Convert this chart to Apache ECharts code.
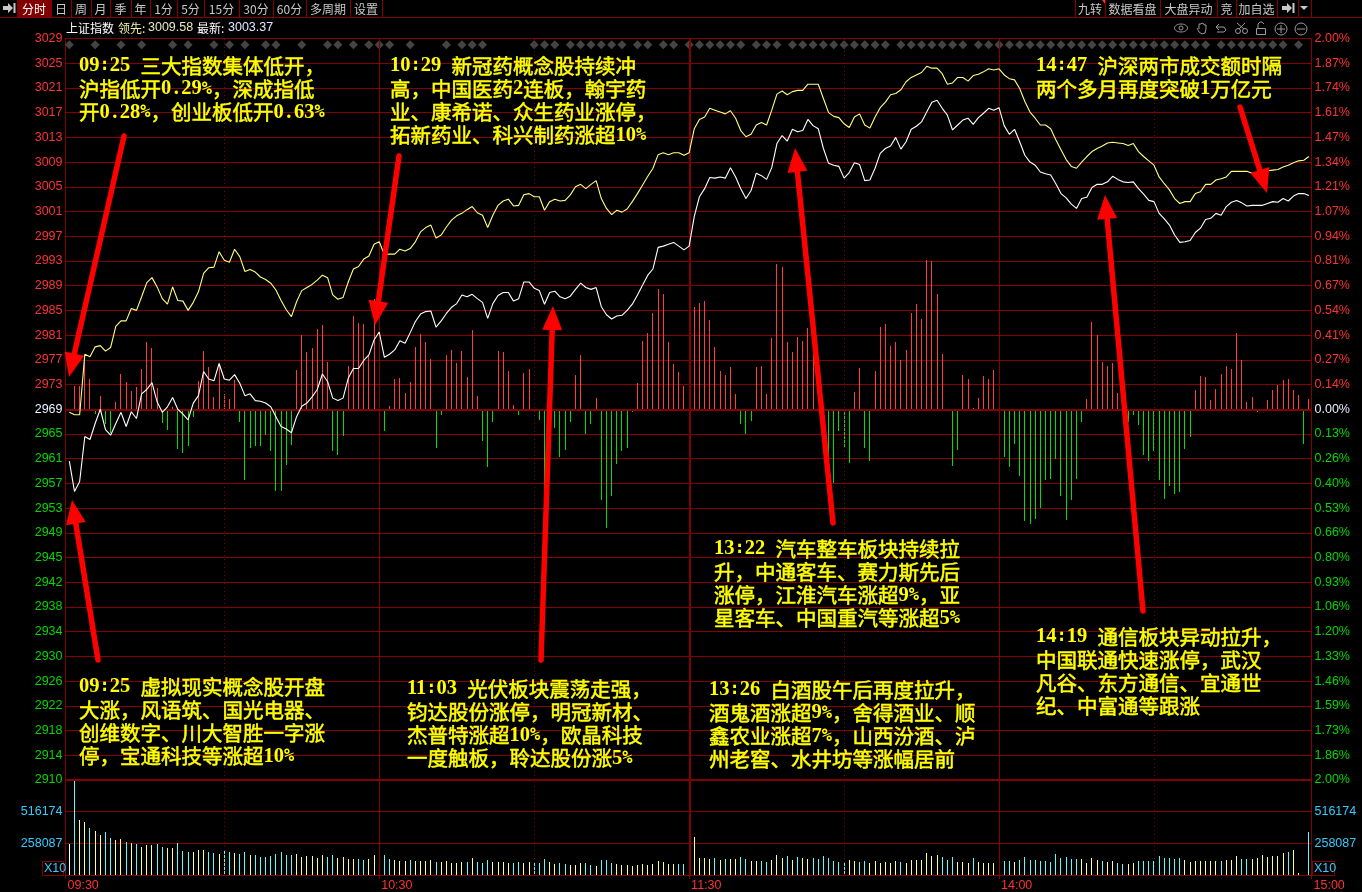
<!DOCTYPE html>
<html>
<head>
<meta charset="utf-8">
<title>上证指数 分时</title>
<style>
  html, body { margin: 0; padding: 0; background: #000; }
  #main { width: 1362px; height: 892px; }
</style>
<script src="https://cdn.jsdelivr.net/npm/echarts@6/dist/echarts.min.js"></script>
</head>
<body>
<div id="main"></div>
<script>
// 价格刻度（上→下）
const priceTicks = ['3029','3025','3021','3017','3013','3009','3005','3001','2997','2993','2989','2985','2981','2977','2973','2969','2965','2961','2957','2953','2949','2945','2942','2938','2934','2930','2926','2922','2918','2914','2910']
const pctTicks = ['2.00%','1.87%','1.74%','1.61%','1.47%','1.34%','1.21%','1.07%','0.94%','0.81%','0.67%','0.54%','0.41%','0.27%','0.14%','0.00%','0.13%','0.26%','0.40%','0.53%','0.66%','0.80%','0.93%','1.06%','1.20%','1.33%','1.46%','1.59%','1.73%','1.86%','2.00%']
const volTicks = ['', '258087', '516174', '']
const timeLabels = ['09:30', '10:30', '11:30', '14:00', '15:00']

// 相对昨收的点数，每分钟一个点
const indexLine = [
  -8.4,-13.3,-11.7,-4.4,-4.9,-2.3,0,-3.3,-4.2,-2.3,
  -0.5,-2.8,-0.4,-1.5,2.5,3.2,4.3,1.2,-0.5,0.4,
  1.9,0,-0.8,-1.7,1.0,2.2,6.1,4.9,4.6,7.4,
  4.9,4.7,5.6,4.2,2.2,2.5,1.4,1.3,1.0,0.4,
  -1.2,-2.8,-3.2,-3.8,-1.2,0.5,1.0,2.0,3.2,5.7,
  4.5,1.8,1.4,1.8,5.0,6.6,6.6,7.9,8.8,11.2,
  12.5,8.4,8.9,9.6,11.1,10.7,12.4,14.2,15.4,15.8,
  15.9,13.3,14.3,15.5,16.5,17.1,18.5,18.2,18.6,17.9,
  17.3,14.7,17.1,18.4,18.9,18.9,17.5,17.9,20.6,20.6,
  19.6,19.2,17.0,18.9,19.1,18.2,17.9,18.3,19.4,20.4,
  19.7,19.4,19.7,16.6,15.3,14.6,15.1,15.2,16.0,17.0,
  18.5,20.1,21.7,22.7,26.2,26.4,26.7,27.0,26.4,25.8,
  26.4,31.2,34.4,35.7,37.5,37.4,37.6,37.4,39.1,37.6,
  35.7,34.1,35.4,38.2,37.8,37.2,39.1,43.0,44.3,43.4,
  45.3,44.9,45.1,46.9,45.9,45.4,42.2,39.8,39.5,39.3,
  37.4,38.3,39.9,39.6,37.0,37.1,39.0,41.4,42.2,42.6,
  44.0,42.1,43.3,45.3,45.8,46.5,48.1,49.7,50.0,48.7,
  47.6,45.2,46.0,46.8,47.1,46.1,47.2,47.9,48.7,48.4,
  48.8,45.9,44.5,45.3,43.3,41.1,40.0,39.5,38.4,38.1,
  37.9,36.5,34.9,34.2,33.2,32.5,34.1,34.3,35.9,36.4,
  36.4,36.8,37.7,37.2,36.8,36.7,36.8,35.7,34.8,33.8,
  33.6,31.7,30.8,29.8,28.2,27.0,27.1,27.3,28.6,29.3,
  30.7,30.9,31.7,31.4,32.8,33.5,33.8,33.4,32.9,33.0,
  33.0,33.0,33.3,33.6,33.5,34.1,33.7,34.5,34.9,34.9,
  34.6
]
const leadLine = [
  -0.5,-0.9,-0.9,8.9,8.5,10.1,10.3,9.4,10.0,13.4,
  14.3,14.3,16.3,16.0,18.2,20.5,21.3,19.8,17.9,17.0,
  19.8,17.6,17.5,16.0,17.3,19.0,22.0,22.9,23.0,25.5,
  24.1,23.8,25.9,24.7,22.3,22.6,22.2,21.4,21.0,20.4,
  19.3,17.6,16.1,15.0,17.4,19.2,19.7,20.2,20.9,21.7,
  21.3,18.5,17.8,18.1,20.6,22.7,23.1,24.3,24.8,26.7,
  27.1,25.0,25.1,25.1,25.9,25.6,26.0,27.1,28.7,29.4,
  29.8,27.7,28.2,29.5,30.6,31.3,31.7,32.3,32.8,31.8,
  31.4,29.4,31.4,33.0,33.7,34.0,32.9,33.0,34.7,34.9,
  34.4,34.4,32.2,33.6,34.0,33.7,33.8,34.7,36.0,36.4,
  35.7,36.4,37.0,34.1,32.5,31.5,32.2,31.9,32.4,33.6,
  34.9,36.3,37.7,39.0,41.2,41.5,41.2,41.5,41.5,41.1,
  41.5,45.4,46.9,47.3,48.7,48.4,48.1,47.8,48.3,47.1,
  45.1,44.1,44.5,46.0,46.4,46.0,48.4,51.0,51.5,50.9,
  51.4,51.6,51.6,52.6,52.6,52.6,50.3,48.0,47.4,47.2,
  46.2,45.6,47.3,47.8,46.0,45.5,47.3,48.8,49.7,50.9,
  51.1,51.7,53.0,53.7,54.1,54.5,55.5,55.2,55.2,54.3,
  52.6,52.8,53.7,53.7,53.1,54.0,54.2,54.6,55.1,54.9,
  55.1,54.1,53.5,53.3,51.9,49.8,48.1,47.1,46.0,46.0,
  45.4,43.6,42.0,40.4,39.3,39.0,40.0,40.9,41.7,42.2,
  42.6,43.1,43.2,43.1,43.0,42.7,43.0,41.7,40.9,40.2,
  39.5,37.6,36.5,35.5,34.1,33.3,33.6,33.6,34.9,35.2,
  36.4,36.4,37.1,37.3,37.6,38.5,38.5,38.5,38.5,38.2,
  38.2,38.4,38.6,38.7,38.8,39.2,39.5,39.9,40.2,40.3,
  40.9
]
// 红绿柱
const flowBars = [
  0,3.8,3.8,8.0,4.9,-0.8,2.2,-2.4,-3.9,1.2,
  5.7,4.4,2.9,3.6,6.5,10.9,9.9,3.4,-2.2,-3.4,
  0.4,-6.4,-7.0,-5.9,-1.2,4.6,9.4,6.8,2.0,7.3,
  2.5,1.7,4.7,-2.0,-11.4,-6.3,-5.9,-5.9,-4.2,-6.7,
  -13.2,-13.3,-9.0,-5.8,6.4,12.0,9.3,9.9,13.0,13.7,
  7.7,-6.7,-7.4,-4.4,7.0,15.1,14.0,13.8,8.8,17.8,
  15.0,-3.5,0.5,4.9,5.1,2.6,4.4,10.1,12.2,10.9,
  8.1,-6.2,-0.9,8.8,9.6,7.5,9.4,5.2,12.8,2.2,
  -5.1,-9.3,-2.0,9.4,9.3,6.2,0.7,-0.9,5.9,6.5,
  -0.4,-1.7,-13.9,0,-3.0,-7.7,-6.6,-2.0,5.6,8.8,
  -4.0,-2.4,1.8,-14.7,-19.2,-14.0,-8.8,-6.7,-6.3,-0.4,
  4.3,11.0,12.3,15.6,19.5,18.6,10.9,7.3,6.0,3.8,
  0,16.5,17.2,17.5,14.4,10.1,6.2,5.6,6.8,2.5,
  -2.4,-4.0,-1.9,6.8,7.0,2.5,11.5,23.5,23.0,10.9,
  9.3,11.7,11.0,13.2,10.6,0,0,-8.2,-11.9,-3.5,
  -6.1,-8.7,2.8,6.7,-6.3,-8.4,6.2,13.3,13.8,10.2,
  10.9,8.0,9.6,15.6,17.0,14.6,24.1,24.0,18.6,8.9,
  -0.2,-9.2,-6.6,5.6,4.9,0.2,1.8,5.4,4.9,6.4,
  2.8,-7.7,-9.3,-5.6,-10.8,-18.1,-18.5,-17.7,-16.0,-11.4,
  -11.3,-8.0,-14.0,-17.9,-14.7,-11.3,-2.0,1.7,14.1,12.0,
  7.7,7.0,7.5,2.6,0,-2.0,-0.9,-2.5,-7.4,-8.4,
  -6.7,-11.4,-14.5,-12.4,-13.7,-13.4,-6.4,-4.5,3.1,5.4,
  5.2,1.5,3.3,5.7,7.0,6.5,12.3,8.0,1.2,2.0,
  -0.5,-0.1,1.5,3.1,3.9,4.7,4.9,3.1,2.3,-5.6,
  1.7
]
// 成交量（万）
const volumes = [
  25.5,77.4,45.2,43.5,38.7,35.5,32.3,34.7,29.9,28.2,
  29.0,26.6,25.8,25.0,22.6,24.2,24.2,25.0,22.6,21.8,
  21.8,25.8,19.4,18.6,18.6,20.2,20.2,18.6,17.7,17.0,
  19.4,18.6,17.7,17.0,18.6,16.1,16.1,14.5,14.5,15.3,
  17.0,18.6,16.1,16.1,17.0,14.5,15.3,15.3,13.7,16.1,
  14.5,16.1,13.7,14.5,12.9,12.9,12.9,12.1,12.9,16.1,
  14.5,16.1,12.9,12.1,11.3,11.3,12.1,11.3,11.3,11.3,
  12.1,10.5,10.5,11.3,9.7,9.7,10.5,10.5,13.7,10.5,
  9.7,12.1,10.5,10.5,10.5,9.7,9.7,10.5,9.7,10.5,
  9.7,9.7,12.9,10.5,8.9,9.7,8.9,8.1,8.1,9.7,
  9.7,8.1,7.3,12.1,12.1,9.7,8.9,8.1,8.1,7.3,
  8.1,8.9,8.1,8.9,11.3,10.5,8.9,8.9,8.9,8.9,
  8.9,30.6,13.7,13.7,12.9,13.7,12.1,12.9,12.9,12.9,
  14.5,12.9,11.3,11.3,11.3,10.5,12.1,16.1,13.7,15.3,
  12.1,14.5,13.7,12.9,13.7,12.9,15.3,13.7,11.3,10.5,
  10.5,12.1,11.3,10.5,11.3,9.7,11.3,9.7,10.5,9.7,
  11.3,10.5,9.7,12.1,12.1,12.1,17.7,15.3,16.1,14.5,
  12.1,14.5,10.5,10.5,9.7,13.7,10.5,9.7,9.7,9.7,
  9.7,11.3,11.3,10.5,12.1,14.5,12.1,12.1,11.3,11.3,
  10.5,16.9,13.7,14.5,12.9,12.9,12.9,9.7,13.7,12.1,
  11.3,10.5,11.3,9.7,8.9,8.9,9.7,11.3,11.3,11.3,
  11.3,15.3,13.7,13.7,12.9,13.7,12.1,10.5,11.3,11.3,
  11.3,11.3,11.3,11.3,12.1,12.1,15.3,12.9,12.9,12.9,
  13.7,16.1,14.5,15.3,15.3,17.7,18.5,20.2,1.6,0,
  34.7
]
// 1 涨 -1 跌 0 平
const volDir = [
  0,-1,1,1,-1,1,1,-1,-1,1,
  1,-1,1,-1,1,1,1,-1,-1,1,
  1,-1,-1,-1,1,1,1,-1,-1,1,
  -1,-1,1,-1,-1,1,-1,-1,-1,-1,
  -1,-1,-1,-1,1,1,1,1,1,1,
  -1,-1,1,1,1,1,-1,-1,1,1,
  1,-1,-1,1,1,1,-1,1,1,1,
  1,-1,1,1,1,1,1,-1,1,-1,
  -1,-1,1,1,1,1,-1,-1,1,1,
  -1,-1,-1,1,1,-1,-1,1,1,1,
  -1,-1,1,-1,-1,-1,1,1,1,1,
  1,1,1,1,1,1,1,1,-1,-1,
  1,1,1,1,1,-1,1,-1,1,1,
  -1,-1,1,1,-1,-1,1,1,1,-1,
  1,-1,1,1,-1,-1,-1,-1,-1,-1,
  -1,1,1,-1,-1,1,1,1,1,1,
  1,-1,1,1,1,1,1,1,1,-1,
  -1,-1,1,1,1,-1,1,1,1,1,
  1,-1,-1,1,-1,-1,-1,-1,-1,-1,
  -1,-1,-1,-1,-1,-1,1,1,1,1,
  -1,1,1,-1,-1,1,1,-1,-1,-1,
  -1,-1,-1,-1,-1,-1,1,1,1,1,
  1,1,1,-1,1,1,1,-1,-1,1,
  1,1,1,1,1,1,-1,1,1,0,
  -1
]
// 灰色菱形（消息）所在分钟
const newsMinutes = [0,5,10,14,20,23,28,31,34,38,40,45,50,52,55,58,60,62,66,73,76,78,80,90,92,94,97,99,101,103,105,107,110,112,115,117,120,122,124,126,128,130,133,135,137,140,142,144,146,148,150,152,154,156,158,161,163,165,167,169,171,173,176,178,180,182,184,186,188,190,192,194,196,198,200,202,204,206,208,210,212,214,216,218,220,223,225,227,229,231,233,235,238]

const solidMinutes = [60, 180]
const noonMinute = [120.15]
const dottedMinutes = [30, 90, 150, 210]

// 文字标注
const notes = [
  { x: 79, y: 66, lines: ['09:25 三大指数集体低开，', '沪指低开0.29%，深成指低', '开0.28%，创业板低开0.63%'] },
  { x: 390, y: 66, lines: ['10:29 新冠药概念股持续冲', '高，中国医药2连板，翰宇药', '业、康希诺、众生药业涨停，', '拓新药业、科兴制药涨超10%'] },
  { x: 1036, y: 66, lines: ['14:47 沪深两市成交额时隔', '两个多月再度突破1万亿元'] },
  { x: 79, y: 687, lines: ['09:25 虚拟现实概念股开盘', '大涨，风语筑、国光电器、', '创维数字、川大智胜一字涨', '停，宝通科技等涨超10%'] },
  { x: 407, y: 689, lines: ['11:03 光伏板块震荡走强，', '钧达股份涨停，明冠新材、', '杰普特涨超10%，欧晶科技', '一度触板，聆达股份涨5%'] },
  { x: 714, y: 549, lines: ['13:22 汽车整车板块持续拉', '升，中通客车、赛力斯先后', '涨停，江淮汽车涨超9%，亚', '星客车、中国重汽等涨超5%'] },
  { x: 709, y: 690, lines: ['13:26 白酒股午后再度拉升，', '酒鬼酒涨超9%，舍得酒业、顺', '鑫农业涨超7%，山西汾酒、泸', '州老窖、水井坊等涨幅居前'] },
  { x: 1036, y: 637, lines: ['14:19 通信板块异动拉升，', '中国联通快速涨停，武汉', '凡谷、东方通信、宜通世', '纪、中富通等跟涨'] }
]
const arrows = [
  [124, 136, 69, 377],
  [98, 660, 72, 500],
  [399, 156, 375, 325],
  [541, 660, 553, 306],
  [833, 523, 795, 148],
  [1143, 611, 1105, 195],
  [1240, 107, 1267, 193]
]

const leftTabs = [['分时', 17, 51], ['日', 51, 71], ['周', 71, 91], ['月', 91, 110], ['季', 110, 131], ['年', 131, 150], ['1分', 150, 177], ['5分', 177, 204], ['15分', 204, 239], ['30分', 239, 273], ['60分', 273, 306], ['多周期', 306, 350], ['设置', 350, 382]]
const rightTabs = [['九转', 1075, 1105], ['数据看盘', 1105, 1160], ['大盘异动', 1160, 1217], ['竞', 1217, 1236], ['加自选', 1236, 1277]]

const gridColor = '#850000'
const cnFont = '"Noto Sans CJK SC"'
const latinFont = '"Liberation Sans"'

// 数字和小数点用衬线体，其它半角符号用等宽，中文单独一段，宽度才和原图对得上
function toRich(line) {
  return line.replace(/[0-9]+|\.|[\x00-\x2d\x2f\x3a-\x7f]+|[^\x00-\x7f]+/g, m => {
    if (m === '.') return '{p|.}'
    if (/^[0-9]/.test(m)) return '{d|' + m + '}'
    if (/^[\x00-\x7f]/.test(m)) return '{a|' + m + '}'
    return '{c|' + m + '}'
  })
}

function noteText(n) {
  return n.lines.map((line, k) => ({
    type: 'text', z: 60, x: n.x, y: n.y + k * 23.2,
    style: {
      text: toRich(line), verticalAlign: 'middle', fill: '#ffff00',
      rich: {
        d: { fontFamily: '"Liberation Serif"', fontSize: 20.5, fontWeight: 'bold', fill: '#ffff00' },
        p: { fontFamily: '"Liberation Serif"', fontSize: 20.5, fontWeight: 'bold', fill: '#ffff00', padding: [0, 2.5, 0, 2.5] },
        a: { fontFamily: '"DejaVu Sans Mono"', fontSize: 17, fontWeight: 'bold', fill: '#ffff00' },
        c: { fontFamily: cnFont, fontSize: 20.5, fontWeight: 'normal', fill: '#ffff00', stroke: '#ffff00', lineWidth: 0.5 }
      }
    }
  }))
}

// 红色箭头：杆 + 三角头
function arrowShape(a) {
  const dx = a[2] - a[0], dy = a[3] - a[1]
  const len = Math.sqrt(dx * dx + dy * dy)
  const ux = dx / len, uy = dy / len
  const nx = -uy, ny = ux
  const bx = a[2] - ux * 24, by = a[3] - uy * 24
  return [
    { type: 'polyline', z: 70, shape: { points: [[a[0], a[1]], [bx, by]] }, style: { stroke: '#ff0000', lineWidth: 5.5, lineCap: 'round', fill: null } },
    { type: 'polygon', z: 70, shape: { points: [[a[2], a[3]], [bx + nx * 10, by + ny * 10], [bx - nx * 10, by - ny * 10]] }, style: { fill: '#ff0000' } }
  ]
}

function tabShapes(t, selected) {
  const list = [
    { type: 'line', z: 5, shape: { x1: t[2] + 0.5, y1: 0, x2: t[2] + 0.5, y2: 17 }, style: { stroke: gridColor, lineWidth: 1 } },
    { type: 'text', z: 6, x: (t[1] + t[2]) / 2, y: 9, style: { text: t[0], font: '12px ' + cnFont, fill: selected ? '#ffffff' : '#c8c8c8', align: 'center', verticalAlign: 'middle' } }
  ]
  if (selected) list.unshift({ type: 'rect', z: 4, shape: { x: t[1], y: 0, width: t[2] - t[1], height: 17 }, style: { fill: '#800000' } })
  return list
}

function iconStroke(shapeType, shape, z) {
  return { type: shapeType, z: z || 6, shape: shape, style: { stroke: '#9a9a9a', lineWidth: 1, fill: null } }
}

let graphics = []
notes.forEach(n => { graphics = graphics.concat(noteText(n)) })
arrows.forEach(a => { graphics = graphics.concat(arrowShape(a)) })
leftTabs.forEach((t, k) => { graphics = graphics.concat(tabShapes(t, k === 0)) })
rightTabs.forEach(t => { graphics = graphics.concat(tabShapes(t, false)) })
graphics.push(
  // 工具栏外框
  { type: 'line', z: 5, shape: { x1: 0, y1: 17.5, x2: 1362, y2: 17.5 }, style: { stroke: gridColor, lineWidth: 1 } },
  { type: 'line', z: 5, shape: { x1: 1075.5, y1: 0, x2: 1075.5, y2: 17 }, style: { stroke: gridColor, lineWidth: 1 } },
  { type: 'line', z: 5, shape: { x1: 1298.5, y1: 0, x2: 1298.5, y2: 17 }, style: { stroke: gridColor, lineWidth: 1 } },
  { type: 'line', z: 5, shape: { x1: 1311.5, y1: 0, x2: 1311.5, y2: 17 }, style: { stroke: gridColor, lineWidth: 1 } },
  { type: 'polygon', z: 6, shape: { points: [[1102, 0], [1105, 0], [1105, 4]] }, style: { fill: '#ff3030' } },
  { type: 'polygon', z: 6, shape: { points: [[3, 6], [8, 6], [8, 3], [13, 8], [8, 13], [8, 10], [3, 10]] }, style: { fill: '#c8c8c8' } },
  { type: 'rect', z: 6, shape: { x: 13.5, y: 3, width: 2, height: 10 }, style: { fill: '#c8c8c8' } },
  { type: 'polygon', z: 6, shape: { points: [[1282, 6], [1287, 6], [1287, 3], [1292, 8], [1287, 13], [1287, 10], [1282, 10]] }, style: { fill: '#c8c8c8' } },
  { type: 'rect', z: 6, shape: { x: 1292.5, y: 3, width: 2, height: 10 }, style: { fill: '#c8c8c8' } },
  { type: 'polygon', z: 6, shape: { points: [[1300, 6], [1308, 6], [1304, 10]] }, style: { fill: '#c8c8c8' } },
  // 标题行
  { type: 'text', z: 6, x: 66, y: 28, style: { text: '上证指数', font: '12px ' + cnFont, fill: '#ffffff', verticalAlign: 'middle' } },
  { type: 'text', z: 6, x: 118, y: 28, style: { text: '领先:', font: '12px ' + cnFont, fill: '#f0f0a0', verticalAlign: 'middle' } },
  { type: 'text', z: 6, x: 148, y: 28, style: { text: '3009.58', font: '12.5px ' + latinFont, fill: '#e8e8c0', verticalAlign: 'middle' } },
  { type: 'text', z: 6, x: 197, y: 28, style: { text: '最新:', font: '12px ' + cnFont, fill: '#ffffff', verticalAlign: 'middle' } },
  { type: 'text', z: 6, x: 228, y: 28, style: { text: '3003.37', font: '12.5px ' + latinFont, fill: '#e0e8ff', verticalAlign: 'middle' } },
  // 右上角小图标
  iconStroke('ellipse', { cx: 1181, cy: 28, rx: 6.5, ry: 4 }),
  iconStroke('circle', { cx: 1181, cy: 28, r: 2 }),
  iconStroke('polyline', { points: [[1197, 28], [1199, 32], [1202, 34], [1205, 33], [1206, 29], [1206, 25], [1204, 25], [1204, 24], [1202, 23], [1201, 24], [1199, 24], [1199, 29]] }),
  iconStroke('polyline', { points: [[1219, 24], [1216, 27], [1219, 30]] }),
  iconStroke('polyline', { points: [[1216, 27], [1224, 27], [1226, 30], [1224, 32], [1217, 32]] }),
  iconStroke('circle', { cx: 1238, cy: 31, r: 2.5 }),
  iconStroke('circle', { cx: 1245, cy: 31, r: 2.5 }),
  iconStroke('line', { x1: 1237, y1: 23, x2: 1244, y2: 29 }),
  iconStroke('line', { x1: 1245, y1: 23, x2: 1239, y2: 29 }),
  iconStroke('rect', { x: 1256.5, y: 28.5, width: 9, height: 6 }),
  iconStroke('polyline', { points: [[1258, 28], [1258, 24], [1260, 22], [1262, 22], [1264, 24]] }),
  iconStroke('circle', { cx: 1281, cy: 29, r: 6 }),
  iconStroke('line', { x1: 1277, y1: 29, x2: 1285, y2: 29 }),
  iconStroke('line', { x1: 1281, y1: 25, x2: 1281, y2: 33 }),
  iconStroke('circle', { cx: 1301, cy: 29, r: 6 }),
  iconStroke('line', { x1: 1297, y1: 29, x2: 1305, y2: 29 }),
  // X10 小框
  { type: 'rect', z: 6, shape: { x: 42.5, y: 861.5, width: 21, height: 14 }, style: { stroke: gridColor, fill: null, lineWidth: 1 } },
  { type: 'text', z: 6, x: 44, y: 869, style: { text: 'X10', font: '12.5px ' + latinFont, fill: '#33ccff', verticalAlign: 'middle' } },
  { type: 'rect', z: 6, shape: { x: 1312.5, y: 861.5, width: 22, height: 14 }, style: { stroke: gridColor, fill: null, lineWidth: 1 } },
  { type: 'text', z: 6, x: 1314, y: 869, style: { text: 'X10', font: '12.5px ' + latinFont, fill: '#33ccff', verticalAlign: 'middle' } }
)

function labelColor(value) {
  if (value > 0) return '#ff3232'
  if (value < 0) return '#00d800'
  return '#e8f0ff'
}

function vLines(minutes, width, type) {
  return minutes.map(m => ({ xAxis: m, lineStyle: { color: gridColor, width: width, type: type } }))
}

// 分时/量能两块共用的竖线
function guideLines() {
  return {
    silent: true, symbol: 'none', label: { show: false }, animation: false,
    data: vLines(solidMinutes, 1, 'solid').concat(vLines(noonMinute, 2, 'solid'), vLines(dottedMinutes, 1, [1, 3]))
  }
}

// 一像素竖柱，位置走坐标轴，取整后线条才清晰
function renderStick(colorOf) {
  return function (params, api) {
    const top = api.coord([api.value(0), api.value(1)])
    const base = api.coord([api.value(0), 0])
    const x = Math.floor(top[0]) + 0.5
    return {
      type: 'line', silent: true,
      shape: { x1: x, y1: Math.round(base[1]), x2: x, y2: Math.round(top[1]) },
      style: { stroke: colorOf(params.dataIndex), lineWidth: 1 }
    }
  }
}

const xMin = -0.74
const xMax = 240.5
const xTickValues = [xMin, 60, 120, 180, xMax]

const chart = echarts.init(document.getElementById('main'), null, { renderer: 'canvas' })
const option = {
  animation: false,
  backgroundColor: '#000000',
  grid: [
    { left: 65.5, right: 50.5, top: 38.5, height: 741.5 },
    { left: 65.5, right: 50.5, top: 780, height: 96 }
  ],
  xAxis: [
    {
      gridIndex: 0, type: 'value', min: xMin, max: xMax, scale: true,
      axisLine: { show: false }, axisTick: { show: false }, axisLabel: { show: false }, splitLine: { show: false }
    },
    {
      gridIndex: 1, type: 'value', min: xMin, max: xMax, scale: true,
      axisLine: { onZero: false, lineStyle: { color: gridColor } },
      axisTick: { customValues: xTickValues, length: 4, lineStyle: { color: gridColor } },
      axisLabel: {
        customValues: xTickValues,
        color: '#ff3232', fontFamily: latinFont, fontSize: 12.5, align: 'left', margin: 4, padding: [0, 0, 0, 2],
        formatter: (v) => timeLabels[xTickValues.indexOf(v)]
      },
      splitLine: { show: false }
    }
  ],
  yAxis: [
    {
      gridIndex: 0, type: 'value', min: -60, max: 60, interval: 4,
      axisLine: { show: true, onZero: false, lineStyle: { color: gridColor } }, axisTick: { show: false },
      axisLabel: {
        color: labelColor, fontFamily: latinFont, fontSize: 12.5, margin: 3,
        formatter: (v) => priceTicks[(60 - v) / 4]
      },
      splitLine: { lineStyle: { color: gridColor, width: 1 } }
    },
    {
      gridIndex: 0, type: 'value', position: 'right', min: -60, max: 60, interval: 4,
      axisLine: { show: true, onZero: false, lineStyle: { color: gridColor } }, axisTick: { show: false },
      axisLabel: {
        color: labelColor, fontFamily: latinFont, fontSize: 12.5, margin: 3,
        formatter: (v) => pctTicks[(60 - v) / 4]
      },
      splitLine: { show: false }
    },
    {
      gridIndex: 1, type: 'value', min: 0, max: 77.4261, interval: 25.8087,
      axisLine: { show: true, onZero: false, lineStyle: { color: gridColor } }, axisTick: { show: false },
      axisLabel: { color: '#33ccff', fontFamily: latinFont, fontSize: 12.5, margin: 3, formatter: (v, i) => volTicks[i] },
      splitLine: { lineStyle: { color: gridColor, width: 1 } }
    },
    {
      gridIndex: 1, type: 'value', position: 'right', min: 0, max: 77.4261, interval: 25.8087,
      axisLine: { show: true, onZero: false, lineStyle: { color: gridColor } }, axisTick: { show: false },
      axisLabel: { color: '#33ccff', fontFamily: latinFont, fontSize: 12.5, margin: 3, formatter: (v, i) => volTicks[i] },
      splitLine: { show: false }
    }
  ],
  series: [
    // 竖线 + 0 轴 + 分隔粗线
    {
      name: 'guides', type: 'line', xAxisIndex: 0, yAxisIndex: 0, z: 1, data: [], showSymbol: false,
      markLine: Object.assign(guideLines(), {
        data: guideLines().data.concat([
          { yAxis: 0, lineStyle: { color: gridColor, width: 2, type: 'solid' } },
          { yAxis: -60, lineStyle: { color: gridColor, width: 2, type: 'solid' } }
        ])
      })
    },
    {
      name: 'volGuides', type: 'line', xAxisIndex: 1, yAxisIndex: 2, z: 1, data: [], showSymbol: false,
      markLine: guideLines()
    },
    {
      name: 'news', type: 'scatter', xAxisIndex: 0, yAxisIndex: 0, z: 3, silent: true,
      symbol: 'diamond', symbolSize: [9, 9], itemStyle: { color: '#555555' },
      data: newsMinutes.map(m => [m, 59])
    },
    {
      name: 'flow', type: 'custom', xAxisIndex: 0, yAxisIndex: 0, z: 4, silent: true,
      renderItem: renderStick(i => (flowBars[i] >= 0 ? '#ff3c3c' : '#00e000')),
      encode: { x: 0, y: 1 },
      data: flowBars.map((v, i) => [i, v])
    },
    {
      name: '上证指数', type: 'line', xAxisIndex: 0, yAxisIndex: 0, z: 5, showSymbol: false, silent: true,
      lineStyle: { color: '#ffffff', width: 1.1 },
      data: indexLine.map((v, i) => [i, v])
    },
    {
      name: '领先', type: 'line', xAxisIndex: 0, yAxisIndex: 0, z: 5, showSymbol: false, silent: true,
      lineStyle: { color: '#ffff80', width: 1.1 },
      data: leadLine.map((v, i) => [i, v])
    },
    {
      name: 'volume', type: 'custom', xAxisIndex: 1, yAxisIndex: 2, z: 4, silent: true,
      renderItem: renderStick(i => (volDir[i] > 0 ? '#ffff80' : (volDir[i] < 0 ? '#55ffff' : '#ffffff'))),
      encode: { x: 0, y: 1 },
      data: volumes.map((v, i) => [i, v])
    }
  ],
  graphic: { elements: graphics }
}
chart.setOption(option)

window.addEventListener('resize', function () {
  chart.resize()
})
</script>
</body>
</html>
